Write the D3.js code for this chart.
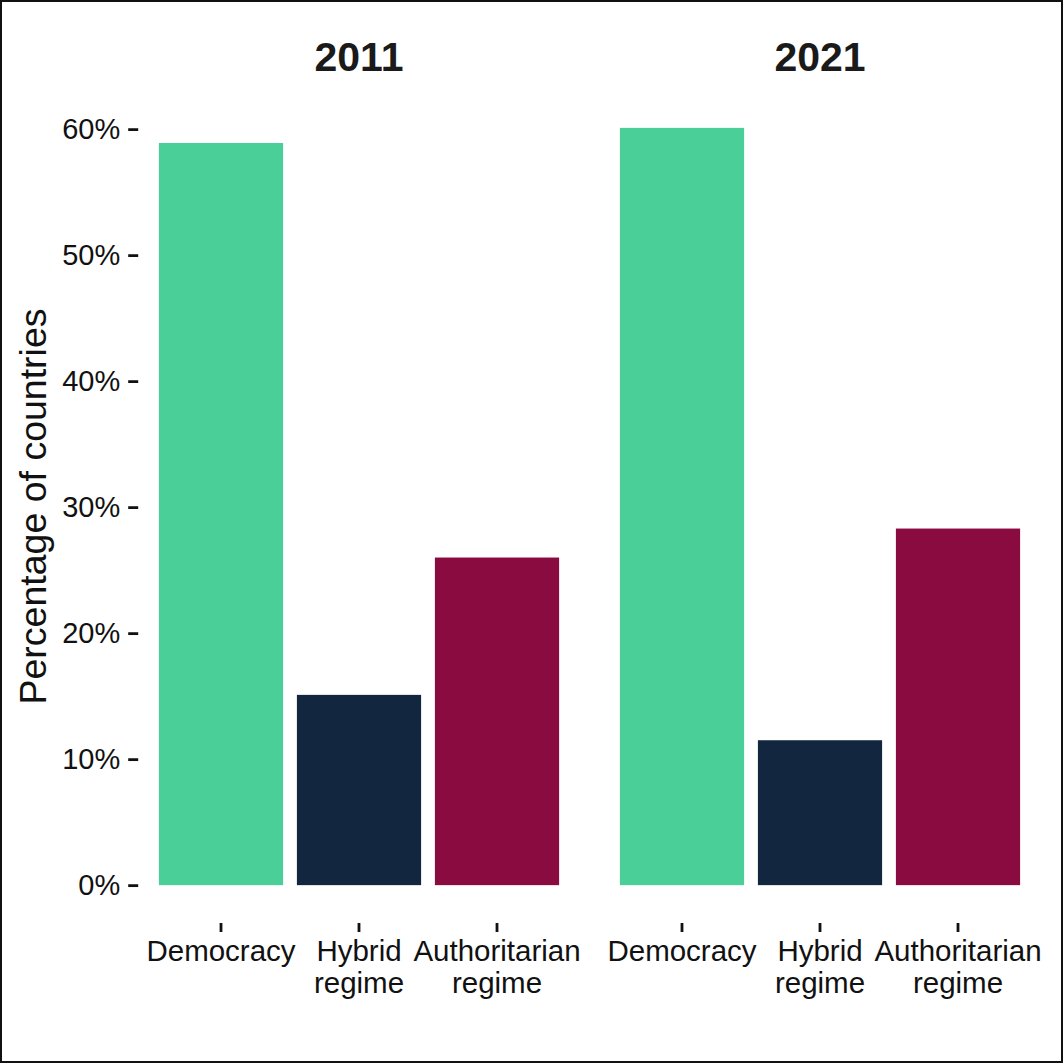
<!DOCTYPE html>
<html>
<head>
<meta charset="utf-8">
<script src="https://cdn.jsdelivr.net/npm/d3@7"></script>
<style>
  body { margin: 0; background: #fff; }
  svg { display: block; font-family: "Liberation Sans", Arial, sans-serif; }
</style>
</head>
<body>
<div id="graph"></div>
<script>
const width = 1063,
    height = 1063,
    panelTop = 90,
    panelBottom = 923;

// data
const years = ["2011", "2021"];
const categories = ["Democracy", "Hybrid regime", "Authoritarian regime"];
const tickLabels = ["Democracy", "Hybrid\nregime", "Authoritarian\nregime"];
const values2011 = [0.589, 0.151, 0.260];
const values2021 = [0.601, 0.115, 0.283];
const yTicks = [0, 0.1, 0.2, 0.3, 0.4, 0.5, 0.6];
const colours = ["#4bcf99", "#13263f", "#8a0b3f"];

const seriesByYear = { "2011": values2011, "2021": values2021 };

// panel horizontal extents (facets)
const panels = [[138.2, 579.8], [599.2, 1040.8]];

// y scale with ggplot-like 5% expansion
const ymax = d3.max(values2011.concat(values2021));
const yExp = ymax * 0.05;
const yRange = d3.scaleLinear()
  .domain([-yExp, ymax + yExp])
  .range([panelBottom, panelTop]);

const colour = d3.scaleOrdinal().domain(categories).range(colours);

const svg = d3.select("#graph")
    .append("svg")
    .attr("width", width)
    .attr("height", height);

svg.append("rect")
    .attr("x", 1).attr("y", 1)
    .attr("width", width - 2).attr("height", height - 2)
    .attr("fill", "#fff")
    .attr("stroke", "#111")
    .attr("stroke-width", 2);

// y axis (left of first panel only)
const yAxis = d3.axisLeft(yRange)
    .tickValues(yTicks)
    .tickFormat(d3.format(".0%"))
    .tickSize(10)
    .tickPadding(8);

const gy = svg.append("g")
    .attr("transform", "translate(" + panels[0][0] + ",0)")
    .call(yAxis);
gy.select(".domain").remove();
gy.selectAll(".tick line").attr("stroke", "#111").attr("stroke-width", 2.8);
gy.selectAll(".tick text")
    .attr("fill", "#111")
    .style("font-size", "29px");

svg.append("text")
    .attr("transform", "translate(46," + ((panelTop + panelBottom) / 2) + ") rotate(-90)")
    .attr("text-anchor", "middle")
    .attr("fill", "#111")
    .style("font-size", "37.5px")
    .text("Percentage of countries");

years.forEach(function (year, i) {
    const xRange = d3.scaleBand()
        .domain(categories)
        .range(panels[i])
        .paddingInner(0.1)
        .paddingOuter(0.15);

    const g = svg.append("g");

    // strip title
    g.append("text")
        .attr("x", (panels[i][0] + panels[i][1]) / 2)
        .attr("y", 71)
        .attr("text-anchor", "middle")
        .attr("fill", "#1a1a1a")
        .style("font-size", "41px")
        .style("font-weight", "bold")
        .text(year);

    const data = categories.map(function (c, j) {
        return { cat: c, value: seriesByYear[year][j] };
    });

    g.selectAll("rect.bar")
        .data(data)
        .enter()
        .append("rect")
        .attr("class", "bar")
        .attr("x", function (d) { return xRange(d.cat); })
        .attr("width", xRange.bandwidth())
        .attr("y", function (d) { return yRange(d.value); })
        .attr("height", function (d) { return yRange(0) - yRange(d.value); })
        .attr("fill", function (d) { return colour(d.cat); });

    const xAxis = d3.axisBottom(xRange)
        .tickSize(9)
        .tickPadding(8);

    const gx = g.append("g")
        .attr("transform", "translate(0," + panelBottom + ")")
        .call(xAxis);
    gx.select(".domain").remove();
    gx.selectAll(".tick line").attr("stroke", "#111").attr("stroke-width", 2.8);
    gx.selectAll(".tick text")
        .attr("fill", "#111")
        .style("font-size", "29.5px")
        .text(null)
        .each(function (d) {
            const lines = tickLabels[categories.indexOf(d)].split("\n");
            const t = d3.select(this);
            lines.forEach(function (line, k) {
                t.append("tspan")
                    .attr("x", 0)
                    .attr("dy", k === 0 ? "0.71em" : "1.07em")
                    .text(line);
            });
        });
});
</script>
</body>
</html>
